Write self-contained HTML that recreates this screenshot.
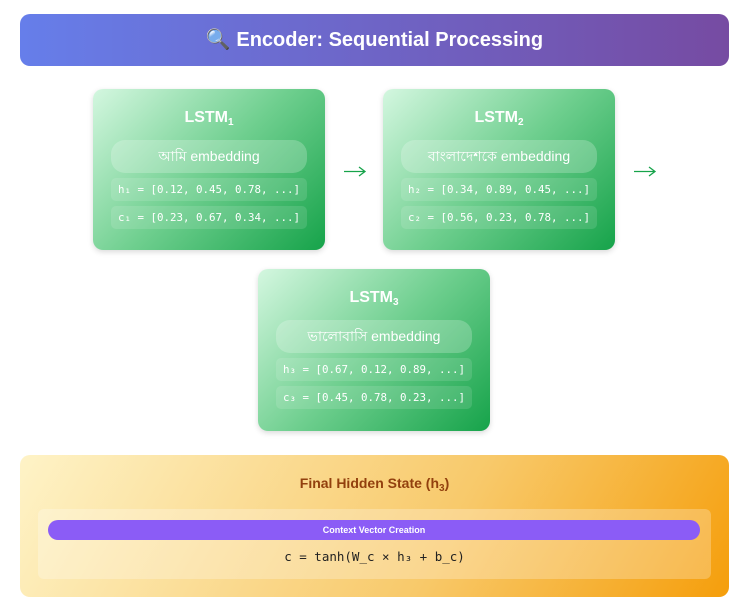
<!DOCTYPE html>
<html><head><meta charset="utf-8"><style>
*{margin:0;padding:0;box-sizing:border-box}
body{width:736px;height:612px;background:#fff;position:relative;font-family:"Liberation Sans","Noto Sans CJK SC",sans-serif;overflow:hidden}
.hdr{position:absolute;left:20px;top:14px;width:709px;height:52px;border-radius:10px;background:linear-gradient(90deg,#667eea,#764ba2);color:#fff;font-weight:bold;font-size:20px;text-align:center;line-height:52px}
.card{position:absolute;width:232px;height:161px;border-radius:10px;background:linear-gradient(135deg,#d4f7e0,#6fcf8f 50%,#16a34a);box-shadow:0 2px 6px rgba(0,0,0,.15);color:#fff}
.card .t{position:absolute;top:20px;width:100%;text-align:center;font-weight:bold;font-size:16px}
sub{font-size:10px;vertical-align:-3px}
.card .e{position:absolute;left:18px;top:51px;width:196px;height:33px;border-radius:14px;background:rgba(255,255,255,.22);text-align:center;line-height:33px;font-size:14px}
.card .r{position:absolute;left:18px;width:196px;height:23px;border-radius:5px;background:rgba(255,255,255,.12);text-align:center;line-height:23px;font-family:"DejaVu Sans Mono","Liberation Mono",monospace;font-size:10.8px}
.arr{position:absolute}
.bot{position:absolute;left:20px;top:455px;width:709px;height:142px;border-radius:10px;background:linear-gradient(120deg,#fef3c7,#f8c96a 60%,#f59e0b)}
.bot .t{position:absolute;top:20px;width:100%;text-align:center;color:#92400e;font-weight:bold;font-size:14px}
.in{position:absolute;left:18px;top:54px;width:673px;height:70px;border-radius:6px;background:rgba(255,255,255,.25)}
.pill{position:absolute;left:10px;top:11px;width:652px;height:20px;border-radius:10px;background:#8b5cf6;color:#fff;font-weight:bold;font-size:9px;text-align:center;line-height:20px}
.f{position:absolute;top:40px;width:100%;text-align:center;font-family:"DejaVu Sans Mono","Liberation Mono",monospace;font-size:12.5px;color:#222}
</style></head><body>
<div class="hdr">🔍 Encoder: Sequential Processing</div>
<div class="card" style="left:93px;top:89px"><div class="t">LSTM<sub>1</sub></div><div class="e">আমি embedding</div><div class="r" style="top:89px">h₁ = [0.12, 0.45, 0.78, ...]</div><div class="r" style="top:117px">c₁ = [0.23, 0.67, 0.34, ...]</div></div>
<svg class="arr" style="left:340px;top:162px" width="30" height="18"><path d="M4 9.5H25M19 5L25 9.5L19 14" stroke="#16a34a" stroke-width="1.3" fill="none"/></svg>
<div class="card" style="left:383px;top:89px"><div class="t">LSTM<sub>2</sub></div><div class="e">বাংলাদেশকে embedding</div><div class="r" style="top:89px">h₂ = [0.34, 0.89, 0.45, ...]</div><div class="r" style="top:117px">c₂ = [0.56, 0.23, 0.78, ...]</div></div>
<svg class="arr" style="left:630px;top:162px" width="30" height="18"><path d="M4 9.5H25M19 5L25 9.5L19 14" stroke="#16a34a" stroke-width="1.3" fill="none"/></svg>
<div class="card" style="left:258px;top:269px;height:162px"><div class="t">LSTM<sub>3</sub></div><div class="e">ভালোবাসি embedding</div><div class="r" style="top:89px">h₃ = [0.67, 0.12, 0.89, ...]</div><div class="r" style="top:117px">c₃ = [0.45, 0.78, 0.23, ...]</div></div>
<div class="bot"><div class="t">Final Hidden State (h<sub>3</sub>)</div><div class="in"><div class="pill">Context Vector Creation</div><div class="f">c = tanh(W_c × h₃ + b_c)</div></div></div>
</body></html>
